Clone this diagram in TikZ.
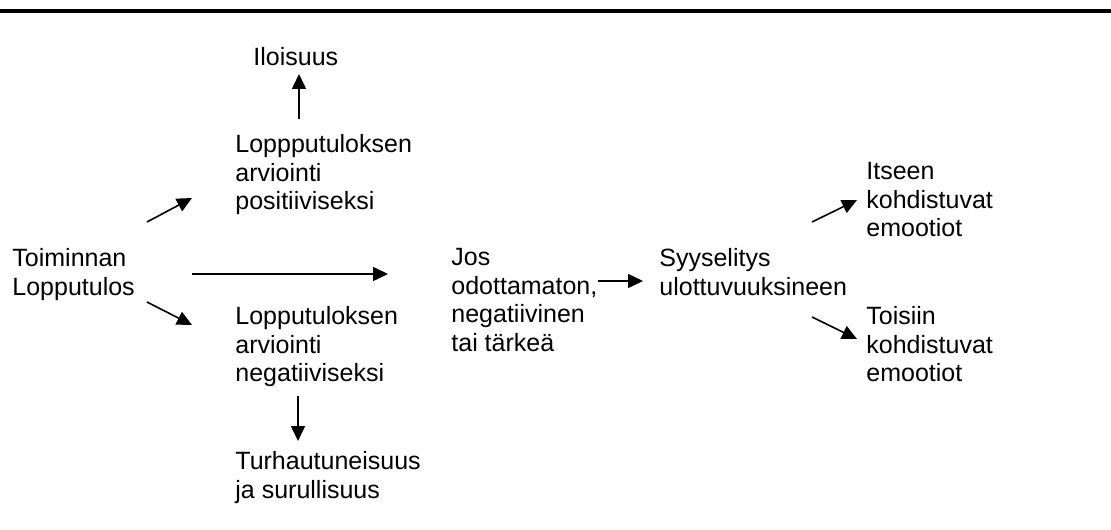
\documentclass[tikz,border=0pt]{standalone}
\usepackage{fontspec}
\setmainfont{Liberation Sans}
\usetikzlibrary{arrows.meta}
\tikzset{
  lbl/.style={anchor=north west,inner sep=0pt,align=left,font=\fontsize{12.5}{14.25}\selectfont},
  arr/.style={line width=0.8pt,-{Triangle[length=7.5pt,width=7pt]}}
}
\begin{document}
\begin{tikzpicture}[x=0.5pt,y=-0.5pt]
    \useasboundingbox (0,0) rectangle (1111,529);
    % Rule
    \draw[line width=1.85pt] (0,11) -- (1111,11);

    % Texts
    \node[lbl] (toim) at (12,248) {Toiminnan\\Lopputulos};
    \node[lbl] (ilo) at (253,47) {Iloisuus};
    \node[lbl] (pos) at (235,134) {Loppputuloksen\\arviointi\\positiiviseksi};
    \node[lbl] (neg) at (235,306) {Lopputuloksen\\arviointi\\negatiiviseksi};
    \node[lbl] (turh) at (235,451) {Turhautuneisuus\\ja surullisuus};
    \node[lbl] (jos) at (451,248) {Jos\\odottamaton,\\negatiivinen\\tai tärkeä};
    \node[lbl] (syy) at (659,248) {Syyselitys\\ulottuvuuksineen};
    \node[lbl] (itse) at (866,162) {Itseen\\kohdistuvat\\emootiot};
    \node[lbl] (muut) at (866,306) {Toisiin\\kohdistuvat\\emootiot};

    % Arrow ends
    \coordinate (pos-ilo-a) at (299,119);
    \coordinate (pos-ilo-b) at (299,74);
    \coordinate (toim-pos-a) at (147,222);
    \coordinate (toim-pos-b) at (192,198);
    \coordinate (toim-jos-a) at (192,274);
    \coordinate (toim-jos-b) at (388,274);
    \coordinate (toim-neg-a) at (147,302);
    \coordinate (toim-neg-b) at (192,325);
    \coordinate (neg-turh-a) at (298,396);
    \coordinate (neg-turh-b) at (298,441);
    \coordinate (jos-syy-a) at (598,281);
    \coordinate (jos-syy-b) at (643,281);
    \coordinate (syy-itse-a) at (812,222);
    \coordinate (syy-itse-b) at (857,200);
    \coordinate (syy-muut-a) at (812,317);
    \coordinate (syy-muut-b) at (857,339);

    % Arrows
    \draw[arr] (pos-ilo-a) -- (pos-ilo-b);
    \draw[arr] (toim-pos-a) -- (toim-pos-b);
    \draw[arr] (toim-jos-a) -- (toim-jos-b);
    \draw[arr] (toim-neg-a) -- (toim-neg-b);
    \draw[arr] (neg-turh-a) -- (neg-turh-b);
    \draw[arr] (jos-syy-a) -- (jos-syy-b);
    \draw[arr] (syy-itse-a) -- (syy-itse-b);
    \draw[arr] (syy-muut-a) -- (syy-muut-b);
\end{tikzpicture}
\end{document}
